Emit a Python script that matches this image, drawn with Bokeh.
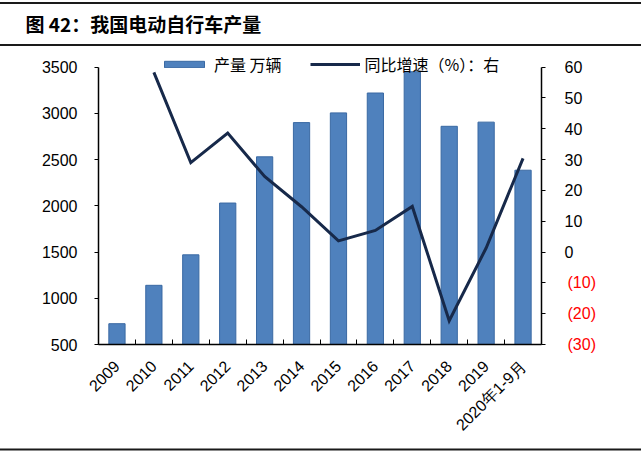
import math
from bokeh.plotting import figure
from bokeh.models import (Range1d, LinearAxis, FixedTicker, ColumnDataSource, Title,
                          Legend, LegendItem)
from bokeh.embed import file_html
from bokeh.resources import INLINE

# ---------------- data ----------------
categories = ["2009", "2010", "2011", "2012", "2013", "2014", "2015", "2016",
              "2017", "2018", "2019", "2020年1-9月"]
production = [725, 1140, 1470, 2030, 2530, 2900, 3005, 3220, 3450, 2860, 2905, 2385]
growth = [float("nan"), 58.3, 29.0, 38.6, 24.5, 14.7, 3.6, 7.0, 14.8, -22.3, 1.3, 30.4]
left_ticks = [500, 1000, 1500, 2000, 2500, 3000, 3500]
right_ticks = [-30, -20, -10, 0, 10, 20, 30, 40, 50, 60]
right_tick_labels = ["(30)", "(20)", "(10)", "0", "10", "20", "30", "40", "50", "60"]
title_text = "图 42：我国电动自行车产量"
bar_label = "产量 万辆"
line_label = "同比增速（%）：右"

# ---------------- layout ----------------
W, H = 641, 454
BL, BR, BT = 98, 100, 44
FW, FH = W - BL - BR, 301
BB = H - BT - FH
PAD = 22.7         # headroom (px) above the top tick, holds the legend

NUM_FONT = "Liberation Sans"
CJK_FONT = "Noto Sans CJK SC"
RULE = "#1a1a1a"


def padded(lo, hi):
    return Range1d(lo, hi + PAD * (hi - lo) / (FH - PAD))


xs = [i + 0.5 for i in range(len(categories))]
src = ColumnDataSource(dict(x=xs, prod=production, g=growth,
                            base=[left_ticks[0]] * len(categories)))

# title; its box's top and bottom edges give the two rules of the header
title = Title(text=title_text, align="left", offset=-5 - BL,
              text_font=CJK_FONT, text_font_size="19px", text_font_style="bold",
              text_color="black", standoff=-1,
              border_line_color=RULE, border_line_width=2,
              padding=dict(left=30, right=460, top=7, bottom=8))

p = figure(width=W, height=H, output_backend="svg", toolbar_location=None,
           x_range=Range1d(0, len(categories)),
           y_range=padded(left_ticks[0], left_ticks[-1]),
           min_border_left=BL, min_border_right=BR, min_border_top=BT,
           min_border_bottom=BB, outline_line_color=None, title=title,
           background_fill_color="white", border_fill_color="white")
p.grid.visible = False
p.extra_y_ranges = {"pct": padded(right_ticks[0], right_ticks[-1])}

r_bar = p.vbar(x="x", top="prod", bottom="base", width=0.44, source=src,
               fill_color="#4F81BD", line_color="#3A69A3", line_width=1)
r_line = p.line(x="x", y="g", source=src, y_range_name="pct",
                line_color="#17294A", line_width=3, line_join="miter")

# x axis: labels at category centres, small inward ticks at category boundaries
xa = p.xaxis[0]
xa.ticker = FixedTicker(ticks=xs, minor_ticks=list(range(len(categories) + 1)))
xa.major_label_overrides = {x: c for x, c in zip(xs, categories)}
xa.major_tick_in = 0
xa.major_tick_out = 0
xa.minor_tick_in = 5
xa.minor_tick_out = 0
xa.minor_tick_line_color = "black"
xa.axis_line_color = "black"
xa.axis_line_width = 1.5
xa.major_label_orientation = math.pi / 4
xa.major_label_text_font = NUM_FONT
xa.major_label_text_font_size = "16px"
xa.major_label_text_color = "black"
xa.major_label_standoff = 19

# left axis
ya = p.yaxis[0]
ya.ticker = FixedTicker(ticks=left_ticks)
ya.bounds = (left_ticks[0], left_ticks[-1])
ya.major_tick_in = 0
ya.major_tick_out = 4
ya.minor_tick_line_color = None
ya.axis_line_color = "black"
ya.axis_line_width = 1.5
ya.major_label_text_font = NUM_FONT
ya.major_label_text_font_size = "16px"
ya.major_label_text_color = "black"
ya.major_label_standoff = 17

# right axis (black, non-negative labels)
ra = LinearAxis(y_range_name="pct", ticker=FixedTicker(ticks=right_ticks),
                bounds=(right_ticks[0], right_ticks[-1]))
ra.major_label_overrides = {t: (l if t >= 0 else "") for t, l in zip(right_ticks, right_tick_labels)}
ra.major_tick_in = 0
ra.major_tick_out = 4
ra.minor_tick_line_color = None
ra.axis_line_color = "black"
ra.axis_line_width = 1.5
ra.major_label_text_font = NUM_FONT
ra.major_label_text_font_size = "16px"
ra.major_label_text_color = "black"
ra.major_label_standoff = 19
p.add_layout(ra, "right")

# right axis companion (red, negative labels drawn in the same column)
rb = LinearAxis(y_range_name="pct", ticker=FixedTicker(ticks=right_ticks))
rb.major_label_overrides = {t: (l if t < 0 else "") for t, l in zip(right_ticks, right_tick_labels)}
rb.axis_line_color = None
rb.major_tick_line_color = None
rb.minor_tick_line_color = None
rb.major_tick_in = 0
rb.major_tick_out = 0
rb.major_label_text_font = NUM_FONT
rb.major_label_text_font_size = "16px"
rb.major_label_text_color = "#FF0000"
rb.major_label_standoff = -18
p.add_layout(rb, "right")

# legend at the top of the plot area
legend = Legend(items=[LegendItem(label=bar_label, renderers=[r_bar]),
                       LegendItem(label=line_label, renderers=[r_line])],
                orientation="horizontal", location=(61, FH - 33),
                glyph_width=50, glyph_height=8, label_height=18,
                label_standoff=5, spacing=28, padding=0, margin=0,
                background_fill_alpha=0, border_line_alpha=0,
                label_text_font=CJK_FONT, label_text_font_size="16px",
                label_text_color="black")
p.add_layout(legend)

# bottom rule (filled box of an empty footer)
footer = Title(text=" ", align="left", offset=-5 - BL, text_font_size="1px",
               standoff=8, border_line_color=None,
               background_fill_color=RULE, background_fill_alpha=1,
               padding=dict(left=0, right=700, top=1, bottom=0))
p.add_layout(footer, "below")

open("out.html", "w").write(file_html(p, INLINE))
